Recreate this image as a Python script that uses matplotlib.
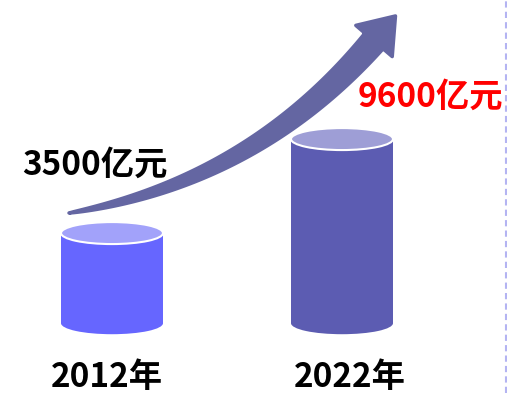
import matplotlib
matplotlib.use("Agg")
import matplotlib.pyplot as plt
import numpy as np
from matplotlib.patches import Ellipse, Rectangle, Polygon

plt.rcParams["font.family"] = ["Noto Sans CJK SC", "DejaVu Sans"]

years = ["2012年", "2022年"]
amounts = [3500, 9600]
amount_labels = ["3500亿元", "9600亿元"]

BASE = -2350
BODY = ["#6666ff", "#5c5cb2"]
TOP = ["#a2a2fa", "#9e9ed6"]
ARROW = "#6466a2"

W, H = 507, 393
fig = plt.figure(figsize=(W / 100, H / 100), dpi=100)

# value axes spanning the whole canvas
ax = fig.add_axes([0, 0, 1, 1])
px_per_cat = 230
xmin = -112 / px_per_cat
ax.set_xlim(xmin, xmin + W / px_per_cat)
px_per_val = 94 / 6100
ymin = -(H - 287) / px_per_val
ax.set_ylim(ymin, ymin + H / px_per_val)
ax.axis("off")

bw = 102 / px_per_cat
eh = 22 / px_per_val
for i, v in enumerate(amounts):
    ax.add_patch(Ellipse((i, BASE), bw, eh, color=BODY[i], lw=0, zorder=1))
    ax.add_patch(Rectangle((i - bw / 2, BASE), bw, v - BASE, color=BODY[i], lw=0, zorder=2))
    ax.add_patch(Ellipse((i, v), bw, eh, facecolor=TOP[i], edgecolor="white", lw=1.5, zorder=3))

# overlay in pixel units for the arrow, labels and the dashed divider
ov = fig.add_axes([0, 0, 1, 1], facecolor="none")
ov.set_xlim(0, W)
ov.set_ylim(H, 0)
ov.axis("off")

p0 = np.array([69.0, 213.0])
p2 = np.array([374.0, 41.0])
d = np.array([0.63, -0.777])
d /= np.linalg.norm(d)
p1 = p2 - 192 * d + np.array([0.0, -8.0])
t = np.linspace(0, 1, 80)[:, None]
pts = (1 - t) ** 2 * p0 + 2 * t * (1 - t) * p1 + t ** 2 * p2
tan = 2 * (1 - t) * (p1 - p0) + 2 * t * (p2 - p1)
tan /= np.linalg.norm(tan, axis=1, keepdims=True)
nrm = np.column_stack([tan[:, 1], -tan[:, 0]])
hw = 12 * t[:, 0] ** 0.75
upper = pts - nrm * hw[:, None]
lower = pts + nrm * hw[:, None]
dh = tan[-1]
perp = np.array([dh[1], -dh[0]])
head = [p2 - perp * 24, p2 + dh * 33, p2 + perp * 24]
outline = np.vstack([lower, [head[0]], [head[1]], [head[2]], upper[::-1]])
ov.add_patch(Polygon(outline, closed=True, facecolor=ARROW, edgecolor=ARROW,
                     lw=2.5, joinstyle="round", zorder=4))

ov.axvline(505.5, color="#b4b4f2", lw=1.5, ls=(0, (3, 2)))

txt = dict(fontsize=24, fontweight="bold", va="center", zorder=5)
ov.text(95, 165, amount_labels[0], ha="center", color="black", **txt)
ov.text(430, 97, amount_labels[1], ha="center", color="#ff0000", **txt)
ov.text(107, 377, years[0], ha="center", color="black", **txt)
ov.text(350, 377, years[1], ha="center", color="black", **txt)

fig.savefig("out.png", dpi=100)
